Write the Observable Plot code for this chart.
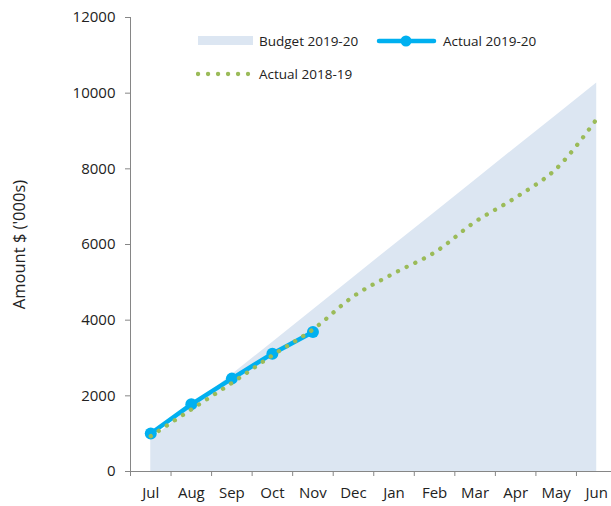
<!DOCTYPE html>
<html>
<head>
<meta charset="utf-8">
<script src="https://cdn.jsdelivr.net/npm/d3@7"></script>
<script src="https://cdn.jsdelivr.net/npm/@observablehq/plot@0.6"></script>
<style>
  html, body { margin: 0; padding: 0; background: #fff; }
  #wrap { position: relative; width: 611px; height: 506px; overflow: hidden; font-family: "Open Sans", sans-serif; }
  .leg { position: absolute; display: flex; align-items: center; font-size: 13.5px; color: #222; white-space: nowrap; }
  .leg svg { display: block; margin-right: 5px; }
</style>
</head>
<body>
<div id="wrap"></div>
<script>
const months = ["Jul","Aug","Sep","Oct","Nov","Dec","Jan","Feb","Mar","Apr","May","Jun"];
const budget2020 = [840, 1700, 2560, 3410, 4270, 5130, 5990, 6840, 7700, 8560, 9410, 10270];
const actual2020 = [1005, 1775, 2455, 3115, 3690];
const actual2019 = [935, 1640, 2340, 3070, 3755, 4630, 5240, 5790, 6600, 7240, 8000, 9320];
const yTicks = [0, 2000, 4000, 6000, 8000, 10000, 12000];

const budgetData = months.map((m, i) => ({i, v: budget2020[i]}));
const a20 = actual2020.map((v, i) => ({i, v}));
const a19 = actual2019.map((v, i) => ({i, v}));
const bounds = months.map((m, i) => i - 0.5).concat([months.length - 0.5]);

const axisColor = "#868686";
const textColor = "#222";

const chart = Plot.plot({
  width: 611,
  height: 506,
  marginTop: 17,
  marginBottom: 35,
  marginLeft: 130,
  marginRight: 0,
  style: {fontFamily: "Open Sans, sans-serif", fontSize: "15px", color: textColor, background: "white", overflow: "visible"},
  x: {type: "linear", domain: [-0.5, months.length - 0.5], range: [130, 616.5]},
  y: {domain: [0, 12000], range: [471, 17]},
  marks: [
    Plot.areaY(budgetData, {x: "i", y: "v", fill: "#dce6f2"}),
    Plot.ruleX([-0.5], {y1: 0, y2: 12000, stroke: axisColor}),
    Plot.ruleY([0], {x1: -0.5, x2: months.length - 0.5, stroke: axisColor}),
    Plot.axisY({ticks: yTicks, tickSize: 5, tickPadding: 10, stroke: axisColor, fill: textColor,
      label: null, tickFormat: d => String(d)}),
    Plot.axisY({ticks: [], label: "Amount $ ('000s)", labelAnchor: "center", labelArrow: "none",
      labelOffset: 117, fontSize: 16.5, fill: textColor}),
    Plot.axisX({ticks: bounds, tickSize: 5, stroke: axisColor, tickFormat: () => "", label: null}),
    Plot.axisX({ticks: months.map((m, i) => i), tickSize: 0, tickPadding: 16, fill: textColor,
      tickFormat: i => months[i], label: null}),
    Plot.line(a20, {x: "i", y: "v", stroke: "#00b0f0", strokeWidth: 4.5}),
    Plot.dot(a20, {x: "i", y: "v", r: 6, fill: "#00b0f0", stroke: "none"}),
    Plot.line(a19, {x: "i", y: "v", stroke: "#9bbb59", strokeWidth: 4.3, curve: "catmull-rom",
      strokeDasharray: "0.1 9.5", strokeLinecap: "round"})
  ]
});

const wrap = document.getElementById("wrap");
wrap.appendChild(chart);

function legendItem(left, top, swatch, label) {
  const d = document.createElement("div");
  d.className = "leg";
  d.style.left = left + "px";
  d.style.top = top + "px";
  d.innerHTML = swatch + "<span>" + label + "</span>";
  wrap.appendChild(d);
}
legendItem(198, 31, '<svg width="56" height="20"><rect x="0" y="5" width="55" height="9" fill="#dce6f2"/></svg>', "Budget 2019-20");
legendItem(376, 31, '<svg width="62" height="20"><line x1="3" y1="10" x2="58" y2="10" stroke="#00b0f0" stroke-width="4.5" stroke-linecap="round"/><circle cx="30" cy="10" r="5.5" fill="#00b0f0"/></svg>', "Actual 2019-20");
legendItem(196, 64, '<svg width="58" height="20"><line x1="2" y1="10" x2="52" y2="10" stroke="#9bbb59" stroke-width="4.3" stroke-dasharray="0.1 9.9" stroke-linecap="round"/></svg>', "Actual 2018-19");
</script>
</body>
</html>
